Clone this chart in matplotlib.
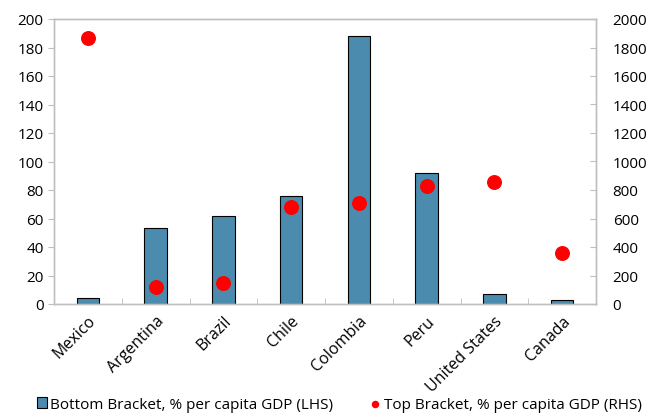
import matplotlib
matplotlib.use("Agg")
import matplotlib.pyplot as plt
import numpy as np

categories = ["Mexico", "Argentina", "Brazil", "Chile", "Colombia", "Peru", "United States", "Canada"]
bottom_bracket = [4, 53, 62, 76, 188, 92, 7, 3]
top_bracket = [1870, 120, 150, 680, 710, 830, 858, 355]

plt.rcParams['font.family'] = ['Open Sans', 'DejaVu Sans']
plt.rcParams['font.size'] = 11

fig = plt.figure(figsize=6.49 * np.array([1, 415 / 649]), dpi=100)
ax = fig.add_axes([54 / 649, 1 - 305 / 415, (596 - 54) / 649, (305 - 20) / 415])
x = np.arange(len(categories))
ax.bar(x, bottom_bracket, width=0.33, color="#4A8BAE", edgecolor="black", linewidth=0.8,
       label="Bottom Bracket, % per capita GDP (LHS)", zorder=2)
ax.set_xlim(-0.5, len(categories) - 0.5)
ax.set_ylim(0, 200)
ax.set_yticks(np.arange(0, 201, 20))
ax2 = ax.twinx()
ax2.scatter(x, top_bracket, s=95, color="#FF0000", zorder=3,
            label="Top Bracket, % per capita GDP (RHS)")
ax2.set_ylim(0, 2000)
ax2.set_yticks(np.arange(0, 2001, 200))

for a in (ax, ax2):
    for s in a.spines.values():
        s.set_color("#BFBFBF")
        s.set_linewidth(1)
ax.tick_params(axis='y', direction='out', length=4, color="#BFBFBF", labelcolor="black", labelsize=11)
ax2.tick_params(axis='y', direction='in', length=4, color="#BFBFBF", labelcolor="black", labelsize=11, pad=12)
ax.set_xticks(x)
ax.set_xticklabels(categories, rotation=45, ha='right', rotation_mode='anchor', fontsize=11.5)
ax.tick_params(axis='x', length=0, pad=6)
ax.set_xticks(np.arange(0.5, len(categories) - 1, 1), minor=True)
ax.tick_params(axis='x', which='minor', direction='in', length=4, color="#BFBFBF")

h1, l1 = ax.get_legend_handles_labels()
h2, l2 = ax2.get_legend_handles_labels()
fig.legend(h1 + h2, l1 + l2, loc='lower left', bbox_to_anchor=(26 / 649, -0.02), ncol=2,
           frameon=False, fontsize=11, handlelength=0.7, handleheight=0.7, handletextpad=0.2,
           columnspacing=2.4, markerscale=0.45, borderaxespad=0.3)
fig.savefig("out.png", dpi=100)
